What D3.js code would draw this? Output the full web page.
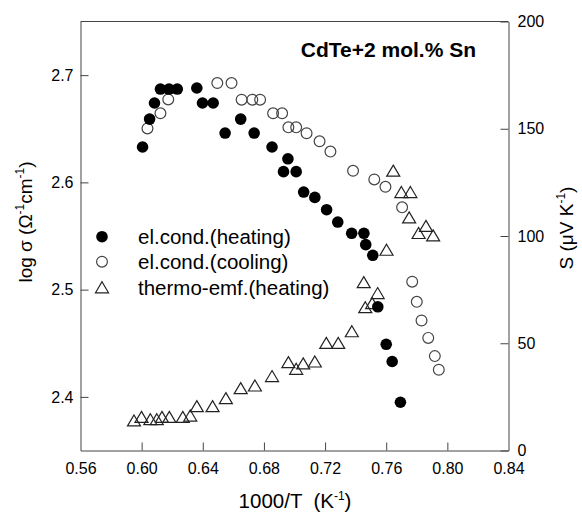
<!DOCTYPE html>
<html>
<head>
<meta charset="utf-8">
<script src="https://cdn.jsdelivr.net/npm/d3@7"></script>
<style>
  body { margin: 0; background: #fff; }
  svg { display: block; font-family: "Liberation Sans", Arial, sans-serif; }
</style>
</head>
<body>
<svg id="chart" width="582" height="513"></svg>
<script>
// ---- data ----
const heatingX = [0.6006,0.6052,0.6084,0.6123,0.6179,0.6233,0.6361,0.6398,0.6468,0.6546,0.6648,0.6736,0.6853,0.6957,0.6928,0.7011,0.7060,0.7133,0.7210,0.7283,0.7374,0.7454,0.7466,0.7512,0.7545,0.7600,0.7639,0.7693];
const heatingLogSigma = [2.633,2.659,2.674,2.687,2.687,2.687,2.688,2.674,2.674,2.646,2.659,2.646,2.633,2.622,2.610,2.610,2.591,2.586,2.5745,2.563,2.5525,2.5525,2.542,2.532,2.484,2.449,2.433,2.395];

const coolingX = [0.6038,0.6123,0.6174,0.6495,0.6588,0.6654,0.6724,0.6775,0.6860,0.6919,0.6960,0.7011,0.7079,0.7164,0.7235,0.7383,0.7522,0.7595,0.7704,0.7770,0.7800,0.7831,0.7875,0.7918,0.7944];
const coolingLogSigma = [2.6503,2.6644,2.6773,2.6926,2.6926,2.6771,2.6771,2.6771,2.6644,2.6644,2.6513,2.6513,2.6458,2.6383,2.6287,2.6108,2.6027,2.5959,2.5767,2.5074,2.4886,2.4712,2.455,2.438,2.4253];

const emfX = [0.5950,0.5999,0.6057,0.6099,0.6133,0.6181,0.6269,0.6318,0.6361,0.6464,0.6551,0.6648,0.6741,0.6853,0.6960,0.7011,0.7057,0.7133,0.7208,0.7286,0.7375,0.7463,0.7453,0.7508,0.7544,0.7602,0.7646,0.7699,0.7758,0.7750,0.7812,0.7860,0.7907];
const emfS = [14.0,15.7,14.6,14.6,15.7,15.7,15.7,16.3,20.7,20.7,24.4,29.1,30.3,34.7,41.2,38.1,40.6,41.5,50.2,50.2,55.6,66.8,78.5,68.7,73.4,93.6,130.5,120.5,120.5,108.7,101.4,104.7,100.3];

const xTicks = [0.56,0.60,0.64,0.68,0.72,0.76,0.80,0.84];
const yLeftTicks = [2.4,2.5,2.6,2.7];
const yRightTicks = [0,50,100,150,200];
const legendLabels = ["el.cond.(heating)","el.cond.(cooling)","thermo-emf.(heating)"];
const titleText = "CdTe+2 mol.% Sn";

// ---- layout ----
const L = 80.5, R = 508.5, T = 21.5, B = 450.5;
const svg = d3.select("#chart");

const x = d3.scaleLinear().domain([0.56,0.84]).range([L,R]);
const yL = d3.scaleLinear().domain([2.35,2.75]).range([B,T]);
const yR = d3.scaleLinear().domain([0,200]).range([B,T]);

const axisColor = "#444";

// frame top line
svg.append("line").attr("x1",L).attr("x2",R).attr("y1",T).attr("y2",T)
  .attr("stroke",axisColor).attr("stroke-width",1);

const gx = svg.append("g").attr("transform",`translate(0,${B})`)
  .call(d3.axisBottom(x).tickValues(xTicks).tickFormat(d3.format(".2f")).tickSizeInner(-8).tickSizeOuter(0).tickPadding(12));
const gyl = svg.append("g").attr("transform",`translate(${L},0)`)
  .call(d3.axisLeft(yL).tickValues(yLeftTicks).tickFormat(d3.format(".1f")).tickSizeInner(-8).tickSizeOuter(0).tickPadding(7));
const gyr = svg.append("g").attr("transform",`translate(${R},0)`)
  .call(d3.axisRight(yR).tickValues(yRightTicks).tickFormat(d3.format("d")).tickSizeInner(-8).tickSizeOuter(0).tickPadding(9));

[gx,gyl,gyr].forEach(g => {
  g.select(".domain").attr("stroke",axisColor);
  g.selectAll(".tick line").attr("stroke",axisColor);
  g.selectAll(".tick text").attr("fill","#000").style("font-size","16px")
    .style("font-family",'"Liberation Sans", Arial, sans-serif');
});
gx.selectAll(".tick").filter(d => d===0.56 || d===0.84).select("line").remove();

// markers
const triPath = "M0,-5.5L6.5,5.5L-6.5,5.5Z";
function drawFilled(g, cx, cy){ g.append("circle").attr("cx",cx).attr("cy",cy).attr("r",5.8).attr("fill","#000"); }
function drawOpen(g, cx, cy){ g.append("circle").attr("cx",cx).attr("cy",cy).attr("r",5.4).attr("fill","none").attr("stroke","#444").attr("stroke-width",1.2); }
function drawTri(g, cx, cy){ g.append("path").attr("d",triPath).attr("transform",`translate(${cx},${cy})`).attr("fill","none").attr("stroke","#222").attr("stroke-width",1.2); }

const gm = svg.append("g");
emfX.forEach((v,i) => drawTri(gm, x(v), yR(emfS[i])));
coolingX.forEach((v,i) => drawOpen(gm, x(v), yL(coolingLogSigma[i])));
heatingX.forEach((v,i) => drawFilled(gm, x(v), yL(heatingLogSigma[i])));

// legend
const legY = [236.7, 261.7, 287.3];
const drawers = [drawFilled, drawOpen, drawTri];
const gl = svg.append("g");
legendLabels.forEach((t,i) => {
  drawers[i](gl, 102, legY[i]);
  gl.append("text").attr("x",138).attr("y",legY[i]).attr("dy","0.36em")
    .style("font-size","20.5px").attr("fill","#000").text(t);
});

// title
svg.append("text").attr("x",476).attr("y",57).attr("text-anchor","end")
  .style("font-size","21px").style("font-weight","bold").attr("fill","#000").text(titleText);

// x-axis title
const xt = svg.append("text").attr("x",295).attr("y",508).attr("text-anchor","middle")
  .style("font-size","20.5px").style("white-space","pre").attr("fill","#000");
xt.append("tspan").text("1000/T  (K");
xt.append("tspan").attr("dy",-8).style("font-size","12px").text("-1");
xt.append("tspan").attr("dy",8).text(")");

// left y title
const ylt = svg.append("text").attr("transform","translate(32,222) rotate(-90)").attr("text-anchor","middle")
  .style("font-size","19px").attr("fill","#000");
ylt.append("tspan").text("log σ (Ω");
ylt.append("tspan").attr("dy",-8).style("font-size","12px").text("-1");
ylt.append("tspan").attr("dy",8).text("cm");
ylt.append("tspan").attr("dy",-8).style("font-size","12px").text("-1");
ylt.append("tspan").attr("dy",8).text(")");

// right y title
const yrt = svg.append("text").attr("transform","translate(573,228) rotate(-90)").attr("text-anchor","middle")
  .style("font-size","19px").attr("fill","#000");
yrt.append("tspan").text("S (μV K");
yrt.append("tspan").attr("dy",-8).style("font-size","12px").text("-1");
yrt.append("tspan").attr("dy",8).text(")");
</script>
</body>
</html>
